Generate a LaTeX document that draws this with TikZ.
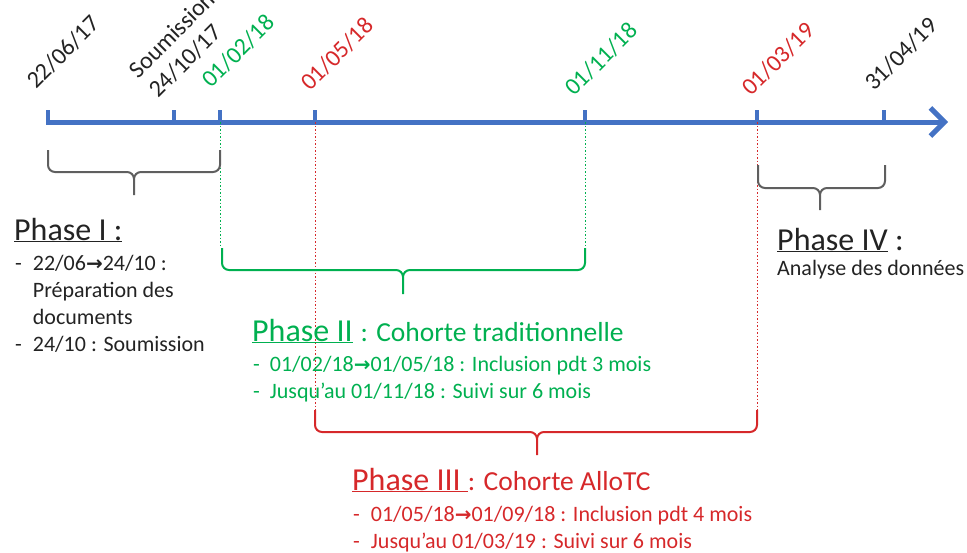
\documentclass[tikz,border=0pt]{standalone}
\usepackage{fontspec}
\setmainfont{Carlito}
\newfontfamily\arrowfont{DejaVu Sans}
\usetikzlibrary{arrows.meta,positioning}
\definecolor{axisblue}{RGB}{68,114,196}
\definecolor{phgreen}{RGB}{0,176,80}
\definecolor{phred}{RGB}{214,40,42}
\definecolor{bracegray}{RGB}{95,95,95}
\definecolor{textdark}{RGB}{35,35,35}
\newcommand{\fleche}{{\arrowfont\bfseries\fontsize{20}{20}\selectfont →}}

\begin{document}
\begin{tikzpicture}[
    x=1pt, y=-1pt,
    axis/.style={line width=5pt, draw=axisblue},
    axistick/.style={line width=3.5pt, draw=axisblue},
    datelabel/.style={rotate=45, anchor=south west, inner sep=0pt,
                      font=\fontsize{24}{28}\selectfont, align=left},
    guide/.style={line width=1pt, dash pattern=on 1.5pt off 2pt},
    bracket/.style={line width=2pt, rounded corners=7pt},
    phasetitle/.style={anchor=base west, inner sep=0pt, font=\fontsize{32}{36}\selectfont},
    itemlist/.style={anchor=base west, inner sep=0pt, font=\fontsize{22}{27}\selectfont},
    >=stealth
  ]
    \useasboundingbox (0,0) rectangle (967,552);

    % time axis
    \foreach \n/\x in {1/48, 2/174, 3/220, 4/315, 5/585, 6/757, 7/884}{
      \coordinate (t\n) at (\x,122);
    }
    \coordinate (tstart) at (46,122);
    \coordinate (tend) at (948,122);
    \draw[axis, -{Straight Barb[length=14pt, width=28pt]}] (tstart) -- (tend);
    \foreach \n in {1,...,7}{
      \draw[axistick] (t\n) -- ++(0,-12);
    }

    % dates
    \node[datelabel, textdark] (d1) at (37,91) {22/06/17};
    \node[datelabel, textdark] (d2) at (159,100) {Soumission\\24/10/17};
    \node[datelabel, phgreen] (d3) at (212,90) {01/02/18};
    \node[datelabel, phred] (d4) at (311,93) {01/05/18};
    \node[datelabel, phgreen] (d5) at (575,98) {01/11/18};
    \node[datelabel, phred] (d6) at (752,98) {01/03/19};
    \node[datelabel, textdark] (d7) at (875,93) {31/04/19};

    % guides down to the braces
    \coordinate (g3) at (220,248);
    \coordinate (g4) at (315,410);
    \coordinate (g5) at (585,248);
    \coordinate (g6) at (757,410);
    \draw[guide, phgreen] (t3) -- (g3);
    \draw[guide, phgreen] (t5) -- (g5);
    \draw[guide, phred] (t4) -- (g4);
    \draw[guide, phred] (t6) -- (g6);

    % braces
    \foreach \xa/\xb/\xm/\ya/\yb/\yc/\col in {48/220/134/150/172/195/bracegray,
        222/585/403/248/270/294/phgreen, 315/757/537/410/432/455/phred,
        758/885/820/165/188/210/bracegray}{
      \draw[bracket, \col] (\xa,\ya) -- (\xa,\yb) -- (\xm,\yb) -- (\xm,\yc)
                           (\xb,\ya) -- (\xb,\yb) -- (\xm,\yb) -- (\xm,\yc);
    }

    % Phase I
    \node[phasetitle, textdark] (p1) at (14,240) {\underline{Phase I :}};
    \node[itemlist, textdark] (p1items) at (15,270)
      {\begin{tabular}[t]{@{}l@{\hspace{11pt}}l@{}}
        - & 22/06\fleche24/10 :\\
          & Préparation des\\
          & documents\\
        - & 24/10 : Soumission
       \end{tabular}};

    % Phase II
    \node[phasetitle, phgreen] (p2) at (252,341)
      {\underline{Phase II}\hspace{8pt}{\fontsize{27.5}{30}\selectfont : Cohorte traditionnelle}};
    \node[itemlist, phgreen] (p2items) at (253,371)
      {\begin{tabular}[t]{@{}l@{\hspace{10pt}}l@{}}
        - & 01/02/18\fleche01/05/18 : Inclusion pdt 3 mois\\
        - & Jusqu’au 01/11/18 : Suivi sur 6 mois
       \end{tabular}};

    % Phase III
    \node[phasetitle, phred] (p3) at (352,490)
      {\underline{Phase III\ }{\fontsize{27.5}{30}\selectfont : Cohorte AlloTC}};
    \node[itemlist, phred] (p3items) at (353,521)
      {\begin{tabular}[t]{@{}l@{\hspace{11pt}}l@{}}
        - & 01/05/18\fleche01/09/18 : Inclusion pdt 4 mois\\
        - & Jusqu’au 01/03/19 : Suivi sur 6 mois
       \end{tabular}};

    % Phase IV
    \node[phasetitle, textdark] (p4) at (777,250) {\underline{Phase IV} :};
    \node[itemlist, textdark] (p4items) at (777,275) {Analyse des données};
  \end{tikzpicture}
\end{document}
